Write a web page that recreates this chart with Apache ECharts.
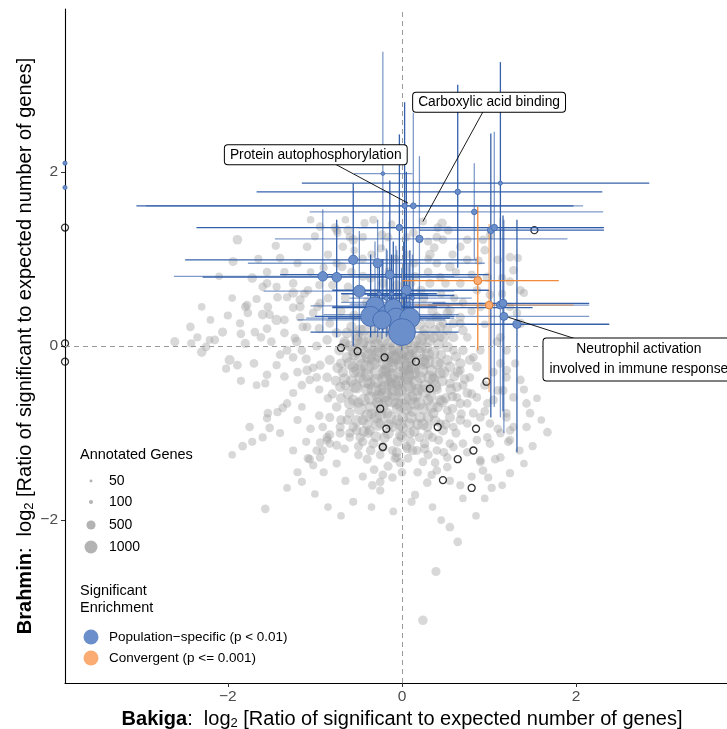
<!DOCTYPE html>
<html><head><meta charset="utf-8">
<script src="https://cdn.jsdelivr.net/npm/echarts@6/dist/echarts.min.js"></script>
<style>html,body{margin:0;padding:0;background:#fff}#chart{width:727px;height:729px}</style>
</head><body><div id="chart"></div>
<script>
// ---------------- DATA ----------------
const xTicks = [-2, 0, 2];
const yTicks = [-2, 0, 2];
const legendGenes = [50, 100, 500, 1000];
const legendGeneLabels = ['50', '100', '500', '1000'];

// background GO terms: [x, y, annotated genes]
const bgLeft = [
[-2.61,0.05,500],[-2.43,0.22,450],[-2.42,0.03,400],[-2.21,0.07,350],[-2.30,-0.07,550],[-2.25,-0.01,450],[-2.15,0.07,450],[-2.06,0.16,500],[-1.98,-0.16,600],[-1.89,-0.22,450],[-2.02,-0.26,400],[-1.85,0.14,450],[-1.80,0.03,500],[-1.69,0.16,450],[-1.78,0.47,450],[-1.67,0.54,400],[-1.60,0.36,550],[-1.54,0.45,450],[-1.43,0.56,450],[-1.32,0.56,400],[-1.44,0.30,650],[-1.35,0.30,450],[-1.25,0.44,450],[-1.21,0.05,550],[-1.32,-0.05,450],[-1.44,-0.22,400],[-1.55,-0.33,450],[-1.57,-0.43,400],[-1.67,-0.45,350],[-1.25,-0.13,450],[-1.15,-0.05,450],[-1.09,-0.28,550],[-1.02,-0.25,450],[-0.94,-0.22,500],[-0.98,-0.36,450],[-1.06,-0.39,450],[-1.15,-0.45,450],[-1.25,-0.54,400],[-1.32,-0.66,450],[-1.37,-0.71,450],[-1.43,-0.76,400],[-1.54,-0.77,450],[-1.55,-0.83,400],[-1.52,-0.94,450],[-1.75,-0.93,450],[-1.83,-1.15,450],[-1.72,-1.10,400],[-1.32,-1.63,350],[-1.15,-1.56,400],[-1.06,-1.30,450],[-1.02,-1.37,400],[-0.94,-1.28,450],[-0.91,-1.20,450],[-0.83,-1.12,450],[-0.86,-1.05,500],[-1.57,-1.87,450]
];
const bgUpperLeft = [
[-1.77,0.38,450],[-1.86,0.26,400],[-1.55,0.72,450],[-1.44,0.68,400],[-1.25,0.72,450],[-1.17,0.53,500],[-1.08,0.64,450],[-1.02,0.38,450],[-0.94,0.49,500],[-0.83,0.26,450],[-0.86,0.07,550],[-1.09,0.22,450],[-1.17,0.33,450],[-1.89,1.22,550],[-1.94,0.97,500],[-1.55,0.85,450],[-1.72,0.78,550],[-1.60,0.68,450],[-1.40,1.01,450],[-1.09,1.14,450],[-1.00,1.26,400],[-0.75,1.33,450],[-0.43,1.41,400],[-0.68,1.14,450],[-0.60,1.25,400],[-0.69,0.91,500],[-1.25,0.61,550],[-1.17,0.45,500],[-1.80,0.45,450],[-1.52,0.36,450],[-1.23,0.09,450],[-1.14,0.22,450],[-0.97,0.45,450]
];
const bgTop = [
[0.24,1.43,400],[0.46,1.41,550],[0.41,1.36,450],[0.53,1.33,450],[-0.94,1.37,450],[-0.77,1.36,450],[-0.62,1.33,500],[-0.33,1.45,400],[-0.23,1.28,450],[-0.74,1.30,400],[-0.56,1.22,550],[-0.16,1.25,450],[0.13,1.30,450],[0.47,1.22,450],[0.67,1.14,450],[0.93,1.22,450],[1.01,1.27,400]
];
const bgRight = [
[0.40,1.25,450],[0.37,1.13,450],[0.32,1.05,550],[0.75,1.22,450],[0.95,1.10,450],[1.24,1.02,450],[1.33,1.01,400],[1.28,0.87,450],[1.10,0.99,450],[0.98,0.79,550],[0.75,0.99,450],[0.55,0.91,550],[0.44,0.79,450],[0.32,0.72,500],[0.67,0.72,450],[0.86,0.64,450],[1.01,0.59,450],[1.24,0.74,450],[1.36,0.64,450],[1.40,0.61,400],[1.24,0.45,450],[1.32,0.38,450],[1.36,0.26,550],[1.13,0.10,450],[1.20,-0.05,450],[1.09,0.05,450],[0.90,-0.05,450],[0.75,0.10,450],[0.67,0.26,450],[0.55,0.41,550],[0.47,0.26,450],[0.44,0.10,450],[0.59,-0.05,450],[0.82,-0.13,450],[0.67,-0.28,450],[0.78,-0.36,450],[0.55,-0.43,550],[0.44,-0.20,450],[0.36,-0.36,450],[1.13,-0.20,450],[1.20,-0.36,450],[1.10,-0.51,450],[1.36,-0.39,450],[1.28,-0.59,450],[1.43,-0.66,450],[0.98,-0.66,450],[0.86,-0.59,450],[0.75,-0.66,450],[0.63,-0.59,450],[0.52,-0.74,450],[0.44,-0.89,450],[0.59,-0.93,450],[0.75,-0.89,450],[0.90,-0.82,450],[1.01,-0.89,450],[0.98,-1.05,450],[1.13,-1.00,450],[1.24,-0.97,450],[1.43,-0.93,450],[1.67,-0.99,450],[1.24,-1.08,450],[1.01,-1.12,450],[0.86,-1.08,450],[0.70,-1.12,450],[0.55,-1.12,450],[0.40,-1.20,450],[0.52,-1.28,450],[0.75,-1.22,450],[0.90,-1.31,450],[1.13,-1.28,450],[1.20,-0.82,450],[1.47,-0.77,450]
];
const bgCore = [
[-0.75,0.15,600],[-0.83,-0.16,600],[-0.86,-0.36,550],[-0.71,-0.47,600],[-0.75,-0.70,550],[-0.56,-0.62,700],[-0.60,-0.77,600],[-0.45,-0.85,650],[-0.37,-0.97,600],[-0.17,-0.77,700],[-0.06,-0.66,800],[0.01,-0.82,700],[0.09,-0.89,650],[0.09,-1.00,600],[-0.02,-1.02,650],[0.21,-0.82,700],[0.29,-0.93,600],[0.36,-0.77,650],[0.47,-0.97,600],[0.55,-0.82,600],[0.44,-0.62,650],[0.67,-0.66,550],[0.63,-0.47,600],[0.75,-0.54,550],[0.86,-0.24,550],[0.78,-0.16,600],[0.67,-0.20,650],[0.55,-0.24,700],[0.44,-0.31,750],[0.36,-0.39,800],[0.21,-0.36,900],[0.09,-0.47,900],[-0.02,-0.51,1000],[-0.14,-0.43,900],[-0.25,-0.51,900],[-0.37,-0.43,850],[-0.48,-0.36,800],[-0.56,-0.24,750],[-0.63,-0.13,700],[-0.48,-0.13,900],[-0.33,-0.20,1000],[-0.17,-0.28,1100],[-0.02,-0.31,1200],[0.13,-0.24,1100],[0.24,-0.16,1000],[0.36,-0.08,900],[0.52,-0.01,700],[0.59,0.10,600],[0.70,0.18,550],[0.52,0.18,600],[0.32,0.07,800],[0.21,-0.01,1000],[0.06,-0.08,1300],[-0.10,-0.13,1300],[-0.25,-0.05,1100],[-0.37,-0.01,1000],[-0.52,0.07,800],[-0.63,0.15,700],[-0.48,0.18,800],[0.36,0.10,700],[0.59,0.26,550],[0.67,0.33,500],[0.52,0.38,550],[0.40,0.33,600],[0.32,0.26,650],[1.20,-0.28,500],[1.16,-0.51,500],[1.05,-0.62,500],[1.20,-0.77,450],[1.28,-0.93,450],[0.67,-0.85,550],[0.82,-0.77,500],[-0.83,-0.82,500],[-0.91,-0.93,450],[-0.71,-1.00,500],[-0.56,-0.93,550],[-0.25,-0.89,600],[-0.10,-0.93,600]
];
const bgCoreHidden = [
[-0.45,0.05,900],[-0.30,0.10,1200],[-0.15,0.02,1000],[0.00,-0.05,1400],[0.15,0.05,900],[0.28,-0.02,800],[-0.55,-0.30,700],[-0.40,-0.50,900],[-0.28,-0.65,800],[-0.10,-0.40,1100],[0.05,-0.25,1300],[0.18,-0.50,900],[0.30,-0.62,700],[-0.05,-0.72,800],[0.12,-0.75,700],[-0.35,-0.78,700],[-0.20,-0.30,1000],[-0.65,-0.45,600],[-0.50,-0.65,650],[0.40,-0.50,600],[0.25,-0.20,900],[-0.33,-0.15,1000],[-0.10,-0.15,1500],[0.10,-0.12,1100],[-0.60,0.00,700],[0.45,-0.10,600],[-0.70,-0.20,600],[-0.15,-0.90,600],[0.20,-1.05,500],[-0.45,-1.10,500],[0.05,-1.15,500],[0.35,-1.05,500],[-0.25,-1.25,450],[-0.60,-1.05,450],[-0.40,0.30,700],[-0.20,0.25,900],[0.20,0.25,800],[0.35,0.40,600],[-0.55,0.35,600],[-0.65,0.55,500],[-0.30,0.60,600],[0.00,0.55,700],[0.25,0.55,500],[-0.45,0.80,500],[-0.15,0.85,500],[0.15,0.80,450],[-0.75,0.95,400],[0.45,0.60,400],[-0.35,1.05,400],[0.05,1.05,400],[-0.55,1.10,350],[0.30,1.00,350],[-0.85,0.55,450],[-0.95,0.70,400],[-1.05,0.85,350],[0.60,0.55,400],[0.80,0.40,400],[0.95,0.25,350],[0.70,-0.45,500],[-0.85,-0.60,450],[-0.95,-0.50,400],[-1.15,-0.70,350]
];
const bgDense = [
[-0.62,-0.55,700],[-0.52,-0.48,800],[-0.44,-0.62,900],[-0.36,-0.70,700],[-0.27,-0.58,1000],[-0.18,-0.64,900],[-0.09,-0.55,1100],[0.03,-0.60,1000],[0.14,-0.66,900],[0.24,-0.72,800],[0.33,-0.58,700],[0.41,-0.70,650],[0.50,-0.60,600],[0.58,-0.72,550],[-0.68,-0.30,650],[-0.58,-0.40,750],[-0.46,-0.22,950],[-0.40,-0.33,1000],[-0.29,-0.40,1200],[-0.20,-0.48,1100],[-0.12,-0.34,1300],[-0.04,-0.42,1200],[0.06,-0.36,1300],[0.16,-0.42,1100],[0.27,-0.46,950],[0.34,-0.28,850],[0.46,-0.40,700],[0.52,-0.16,650],[-0.72,-0.05,600],[-0.66,0.05,650],[-0.55,-0.10,800],[-0.41,-0.08,1000],[-0.29,0.00,1200],[-0.19,-0.18,1400],[-0.07,-0.02,1400],[0.03,0.05,1200],[0.12,-0.02,1100],[0.22,0.08,900],[0.30,-0.10,900],[0.42,0.02,700],[-0.58,0.22,650],[-0.44,0.18,750],[-0.32,0.22,800],[-0.12,0.15,900],[0.10,0.18,800],[0.26,0.18,700],[0.44,0.22,600],[-0.80,-0.55,500],[-0.70,-0.85,550],[-0.60,-1.00,500],[-0.48,-1.05,550],[-0.33,-1.12,600],[-0.20,-1.05,650],[-0.05,-1.10,600],[0.10,-1.10,550],[0.26,-1.12,550],[0.42,-1.08,500],[-0.40,-1.30,500],[-0.16,-1.38,500],[0.00,-1.45,450],[0.18,-1.45,450],[0.30,-1.25,500],[-0.32,-1.42,450],[-0.50,-1.25,450],[0.48,-1.22,450],[-0.66,-1.18,450],[-0.05,-0.85,800],[0.18,-0.90,750],[-0.25,-0.78,850],[0.30,-0.82,700],[0.05,-0.72,900],[-0.40,-0.90,650],[0.60,-0.35,600],[0.70,-0.05,550],[0.80,-0.55,500],[0.95,-0.45,500],[0.95,-0.75,450],[1.05,-0.30,450],[1.10,-0.95,450],[1.30,-0.20,400],[1.40,-0.50,400],[1.55,-0.60,350],[1.50,-1.15,400],[1.35,-1.20,400],[1.60,-0.85,350]
];
const bgDenseInner = [
[-0.55,-0.05,1000],[-0.47,0.02,1100],[-0.38,-0.12,1300],[-0.26,-0.10,1400],[-0.16,-0.06,1500],[-0.04,-0.12,1600],[0.07,-0.16,1500],[0.18,-0.08,1300],[0.29,-0.18,1100],[0.40,-0.20,900],[-0.60,-0.20,900],[-0.50,-0.28,1100],[-0.40,-0.24,1200],[-0.28,-0.30,1400],[-0.14,-0.22,1500],[0.00,-0.20,1600],[0.12,-0.30,1400],[0.22,-0.28,1200],[0.32,-0.36,1000],[0.48,-0.30,800],[-0.66,-0.38,800],[-0.54,-0.46,1000],[-0.42,-0.40,1200],[-0.32,-0.50,1300],[-0.20,-0.38,1400],[-0.08,-0.48,1500],[0.04,-0.44,1400],[0.15,-0.56,1200],[0.26,-0.52,1100],[0.38,-0.46,900],[0.56,-0.50,700],[-0.60,-0.66,800],[-0.48,-0.72,1000],[-0.36,-0.60,1100],[-0.24,-0.70,1200],[-0.12,-0.62,1300],[0.00,-0.68,1200],[0.10,-0.60,1100],[0.20,-0.66,1000],[0.34,-0.70,900],[0.46,-0.64,800],[-0.52,-0.86,800],[-0.40,-0.80,900],[-0.28,-0.90,1000],[-0.14,-0.82,1000],[-0.02,-0.90,900],[0.10,-0.82,900],[0.24,-0.90,800],[0.38,-0.86,700],[-0.44,-0.98,700],[-0.30,-1.04,700],[-0.16,-1.00,800],[0.00,-1.04,700],[0.14,-0.98,700],[0.30,-1.02,600],[-0.22,-1.16,600],[-0.06,-1.22,600],[0.12,-1.20,550],[0.26,-1.18,550],[-0.36,-1.20,550],[-0.50,-1.15,500],[-0.70,-0.60,600],[-0.76,-0.40,600],[-0.74,-0.25,650],[0.62,-0.12,600],[0.64,-0.30,600],[0.72,-0.38,550],[0.58,-0.58,550],[0.68,-0.78,500],[0.50,-0.90,550],[0.62,-1.00,500],[-0.66,0.02,700],[-0.52,0.12,800],[-0.36,0.10,1000],[-0.22,0.08,1200],[0.25,0.12,900],[0.38,0.18,700],[0.48,0.10,650],[-0.30,-0.82,900],[0.05,-0.32,1500],[-0.20,-0.56,1300]
];
const bgBehindBars = [
[-0.70,0.40,500],[-0.62,0.68,450],[-0.40,0.50,600],[-0.36,0.78,500],[-0.22,0.72,550],[-0.06,0.70,550],[0.10,0.72,500],[0.22,0.64,500],[0.30,0.85,450],[0.14,0.95,450],[-0.08,1.00,450],[-0.24,1.12,400],[-0.45,1.00,450],[-0.58,0.85,450],[-0.80,0.70,450],[-0.85,1.05,400],[-0.90,0.90,400],[0.40,0.95,450],[0.50,0.72,450],[0.62,0.85,400],[0.80,0.82,400],[0.88,0.98,400],[1.15,0.78,400],[1.15,0.60,400],[0.70,0.50,450],[0.90,0.45,450],[0.58,1.05,400],[-0.12,1.40,350],[0.05,1.25,400],[0.30,1.20,400],[-0.45,1.25,400]
];
const bgArms = [
[-0.95,-0.80,450],[-1.05,-0.95,450],[-1.20,-0.85,400],[-1.10,-1.10,400],[-1.25,-1.20,400],[-1.40,-1.00,400],[-1.60,-1.05,400],[-1.95,-1.25,350],[-1.20,-1.45,400],[-0.90,-1.45,400],[-0.75,-1.35,400],[-0.65,-1.55,400],[-0.45,-1.50,400],[-1.00,-1.70,350],[-0.85,-1.85,350],
[-2.00,0.35,400],[-2.20,0.30,350],[-2.35,0.10,400],[-1.95,0.55,350],[-1.62,0.10,450],[-1.50,0.05,450],[-1.40,-0.10,450],[-1.70,-0.20,450],[-1.85,-0.40,400],[-1.35,-0.35,450],[-1.20,-0.30,450],[-1.10,-0.15,500],[-0.98,0.00,500],[-0.95,0.20,500],[-1.35,0.15,450],[-1.55,0.20,450],[-1.12,0.60,450],[-1.35,0.85,400],[-1.20,0.95,400],[-1.65,1.00,400],[-1.45,1.15,400],[-2.10,0.80,350],[-2.30,0.45,350],[-0.65,1.45,350],[-1.05,1.45,350],
[0.55,-1.55,400],[0.80,-1.50,400],[0.70,-1.75,350],[0.95,-1.75,350],[1.15,-1.60,350],[1.40,-1.35,350],[0.35,-1.85,350],[-0.10,-1.90,350],[0.45,-2.00,350],[-0.35,-1.85,350],[-0.70,-1.95,350],[0.85,-1.95,350]
];
const bgLower = [
[-0.56,-1.79,400],[-0.34,-1.60,450],[-0.25,-1.56,450],[-0.25,-1.66,400],[-0.22,-1.48,450],[-0.11,-1.51,450],[-0.08,-1.29,500],[0.06,-1.18,500],[0.07,-1.29,450],[0.17,-1.20,500],[0.24,-1.33,450],[0.15,-1.71,400],[0.11,-1.79,400],[0.29,-1.57,450],[0.38,-1.34,450],[0.34,-1.48,400],[0.40,-1.43,450],[0.52,-1.39,450],[0.59,-1.16,450],[0.67,-1.60,400],[0.93,-1.43,450],[0.99,-1.51,400],[1.03,-1.63,400],[1.07,-1.30,450],[0.90,-1.33,450],[1.24,-1.46,400],[1.22,-1.10,450],[0.55,-2.08,450],[0.64,-2.25,450],[0.39,-2.59,500],[0.24,-3.15,550],[-0.83,-1.02,500],[-0.98,-1.20,450],[-1.08,-1.29,450],[-0.94,-1.11,450],[-0.86,-1.08,450],[-0.75,-1.14,500],[-0.71,-0.93,500],[-0.63,-0.85,550],[-0.52,-0.97,550],[-0.39,-1.00,550],[0.01,-0.94,600],[-0.02,-1.34,500],[-0.06,-1.28,500],[-0.11,-1.20,500]
];

// significant in one population only (black outline): [x, y]
const hollowPts = [
[-0.70,-0.02],[-0.51,-0.06],[-0.20,-0.13],[0.16,-0.18],[0.32,-0.49],[0.97,-0.41],[-0.25,-0.72],[-0.18,-0.95],[-0.22,-1.16],[0.41,-0.93],[0.85,-0.95],[0.82,-1.20],[0.64,-1.30],[0.47,-1.54],[0.80,-1.63],[1.52,1.33],[-3.87,1.36],[-3.87,0.03],[-3.87,-0.18]
];

// population-specific: [x, y, genes, xLow, xHigh, yLow, yHigh]
const popSpecific = [
[1.13,1.87,100,-1.15,2.84,0.53,3.26],
[-0.22,1.98,80,-0.55,0.12,1.10,3.38],
[0.03,1.61,170,-3.05,1.97,0.30,2.80],
[0.13,1.61,200,-2.94,2.08,0.20,2.68],
[0.64,1.77,180,-1.67,2.30,0.90,3.00],
[0.83,1.54,180,-1.06,2.31,1.00,2.10],
[-0.03,1.36,250,-2.36,2.32,0.40,2.43],
[0.20,1.23,320,-1.46,1.90,0.30,2.18],
[1.02,1.33,280,0.20,2.32,-0.82,2.44],
[1.06,1.36,250,-0.50,2.30,-0.70,2.46],
[-0.56,0.99,520,-2.49,0.86,0.00,1.87],
[-0.28,0.95,500,-1.77,0.95,0.10,1.45],
[-0.14,0.82,450,-1.40,1.00,0.15,1.90],
[-0.91,0.80,550,-2.62,0.60,0.16,1.57],
[-0.75,0.79,550,-2.29,0.90,0.10,1.45],
[-0.49,0.63,850,-1.59,0.60,0.10,1.32],
[0.05,0.64,600,-0.80,1.00,0.15,2.00],
[-0.18,0.55,120,-0.60,0.30,0.10,1.12],
[-0.12,0.60,100,-0.50,0.40,0.15,1.05],
[-0.06,0.50,110,-0.70,0.50,0.12,1.10],
[0.02,0.58,100,-0.40,0.60,0.18,1.20],
[0.07,0.48,120,-0.60,0.70,0.10,0.95],
[-0.22,0.45,130,-0.80,0.40,0.15,1.00],
[0.12,0.55,100,-0.30,0.80,0.20,1.05],
[-0.26,0.60,100,-0.70,0.30,0.18,0.98],
[-0.31,0.46,2000,-1.05,0.55,0.15,1.20],
[-0.36,0.34,2400,-1.00,0.60,0.10,1.05],
[-0.17,0.36,2000,-0.90,0.65,0.12,1.10],
[-0.10,0.44,1800,-0.80,1.50,0.20,1.20],
[-0.07,0.32,2400,-1.10,0.60,0.10,1.15],
[0.09,0.32,2400,-0.85,0.55,0.12,1.10],
[-0.23,0.30,2000,-1.20,0.50,0.08,1.00],
[0.00,0.16,4300,-1.05,0.65,-0.05,0.90],
[1.13,0.47,380,0.30,2.15,-0.82,1.47],
[1.16,0.49,380,0.35,2.15,-0.75,1.50],
[1.17,0.34,380,0.00,2.15,-1.00,1.45],
[1.32,0.25,400,0.50,2.38,-1.22,1.45],
[-3.87,2.10,100,-3.87,-3.87,2.10,2.10],
[-3.87,1.82,100,-3.87,-3.87,1.82,1.82]
];
// convergent: [x, y, genes, xLow, xHigh, yLow, yHigh]
const convergent = [
[0.87,0.75,380,0.00,1.80,-0.05,1.60],
[1.00,0.47,350,0.15,1.97,-0.53,1.40]
];

// annotations
const annoText = ['Protein autophosphorylation', 'Carboxylic acid binding', 'Neutrophil activation\ninvolved in immune response'];
const annoBox  = [[-0.99, 2.195], [1.00, 2.80], [2.72, -0.155]];
const annoFrom = [[-0.77, 2.09], [0.93, 2.69], [2.00, 0.08]];
const annoTo   = [[0.07, 1.64], [0.24, 1.43], [1.22, 0.33]];

// ---------------- CHART ----------------
const FONT = '"Liberation Sans", Arial, Helvetica, sans-serif';
const sz = g => Math.sqrt(g) * 0.41;
const fmt = v => (v < 0 ? '\u2212' + Math.abs(v) : String(v));
const background = [].concat(bgLeft, bgUpperLeft, bgTop, bgRight, bgCore, bgCoreHidden, bgDense, bgDenseInner, bgBehindBars, bgArms, bgLower);
const BLUE_FILL = '#6b8fcb', BLUE_EDGE = '#3d66ad', BLUE_LINE = '#2a58a6';
const ORG_FILL = '#fbac72', ORG_EDGE = '#e07b2c', ORG_LINE = '#f0842f';

function errRender(color) {
  return function (params, api) {
    const x = api.value(0), y = api.value(1);
    const a = api.coord([api.value(3), y]), b = api.coord([api.value(4), y]);
    const c = api.coord([x, api.value(5)]), d = api.coord([x, api.value(6)]);
    const op = params.dataIndex % 2 ? 0.6 : 0.95;
    return { type: 'group', children: [
      { type: 'line', shape: { x1: a[0], y1: a[1], x2: b[0], y2: b[1] }, style: { stroke: color, lineWidth: 1.3, opacity: op } },
      { type: 'line', shape: { x1: c[0], y1: c[1], x2: d[0], y2: d[1] }, style: { stroke: color, lineWidth: 1.3, opacity: op } }
    ] };
  };
}

const annoData = annoBox.map((b, i) => [b[0], b[1], annoFrom[i][0], annoFrom[i][1], annoTo[i][0], annoTo[i][1]]);

const nameRich = {
  b: { fontFamily: FONT, fontSize: 20, fontWeight: 'bold', color: '#000' },
  n: { fontFamily: FONT, fontSize: 20, color: '#000' },
  s: { fontFamily: FONT, fontSize: 13, color: '#000', padding: [9, 0, 0, 0] }
};

const graphics = [];
graphics.push({ type: 'text', x: 80, y: 455, style: { text: 'Annotated Genes', font: '14.5px ' + FONT, fill: '#000', verticalAlign: 'middle' } });
const legY = [481, 502, 525, 547];
legendGenes.forEach((g, i) => {
  graphics.push({ type: 'circle', shape: { cx: 91, cy: legY[i], r: sz(g) / 2 }, style: { fill: '#b3b3b3' } });
  graphics.push({ type: 'text', x: 109, y: legY[i], style: { text: legendGeneLabels[i], font: '14px ' + FONT, fill: '#000', verticalAlign: 'middle' } });
});
graphics.push({ type: 'text', x: 80, y: 591, style: { text: 'Significant', font: '14.5px ' + FONT, fill: '#000', verticalAlign: 'middle' } });
graphics.push({ type: 'text', x: 80, y: 608, style: { text: 'Enrichment', font: '14.5px ' + FONT, fill: '#000', verticalAlign: 'middle' } });
graphics.push({ type: 'circle', shape: { cx: 91, cy: 637, r: 7.5 }, style: { fill: BLUE_FILL } });
graphics.push({ type: 'text', x: 109, y: 637, style: { text: 'Population\u2212specific (p < 0.01)', font: '13.5px ' + FONT, fill: '#000', verticalAlign: 'middle' } });
graphics.push({ type: 'circle', shape: { cx: 91, cy: 658, r: 7.5 }, style: { fill: ORG_FILL } });
graphics.push({ type: 'text', x: 109, y: 658, style: { text: 'Convergent (p <= 0.001)', font: '13.5px ' + FONT, fill: '#000', verticalAlign: 'middle' } });

const chart = echarts.init(document.getElementById('chart'));
chart.setOption({
  animation: false,
  backgroundColor: '#fff',
  grid: { left: 65, right: -12, top: 9, bottom: 46, containLabel: false, outerBoundsMode: 'none' },
  xAxis: {
    type: 'value', min: -3.87, max: 3.87,
    axisLine: { show: true, onZero: false, lineStyle: { color: '#000', width: 1.1 } },
    axisTick: { show: true, length: 4, customValues: xTicks, lineStyle: { color: '#333' } },
    axisLabel: { customValues: xTicks, formatter: fmt, color: '#4d4d4d', fontSize: 15.5, fontFamily: FONT, margin: 6 },
    splitLine: { show: false },
    name: '{b|Bakiga}{n|:  log}{s|2}{n| [Ratio of significant to expected number of genes]}',
    nameLocation: 'middle', nameGap: 25, nameMoveOverlap: false, nameTextStyle: { rich: nameRich }
  },
  yAxis: {
    type: 'value', min: -3.87, max: 3.87,
    axisLine: { show: true, onZero: false, lineStyle: { color: '#000', width: 1.1 } },
    axisTick: { show: true, length: 4, customValues: yTicks, lineStyle: { color: '#333' } },
    axisLabel: { customValues: yTicks, formatter: fmt, color: '#4d4d4d', fontSize: 15.5, fontFamily: FONT, margin: 7 },
    splitLine: { show: false },
    name: '{b|Brahmin}{n|:  log}{s|2}{n| [Ratio of significant to expected number of genes]}',
    nameLocation: 'middle', nameGap: 29, nameRotate: 90, nameMoveOverlap: false, nameTextStyle: { rich: nameRich }
  },
  graphic: graphics,
  series: [
    {
      type: 'scatter', name: 'background', data: background, z: 1,
      symbolSize: d => sz(d[2]),
      itemStyle: { color: '#a3a3a3', opacity: 0.42 },
      silent: true,
      markLine: {
        silent: true, symbol: 'none', label: { show: false },
        lineStyle: { color: '#9a9a9a', type: [5, 4], width: 1 },
        data: [{ xAxis: 0 }, { yAxis: 0 }]
      }
    },
    {
      type: 'scatter', name: 'hollow', data: hollowPts, z: 3, symbolSize: 7,
      itemStyle: { color: 'rgba(0,0,0,0)', borderColor: '#000', borderWidth: 1.3 }
    },
    {
      type: 'custom', name: 'popErr', data: popSpecific, z: 4,
      encode: { x: 0, y: 1 }, renderItem: errRender(BLUE_LINE), silent: true
    },
    {
      type: 'custom', name: 'convErr', data: convergent, z: 4,
      encode: { x: 0, y: 1 }, renderItem: errRender(ORG_LINE), silent: true
    },
    {
      type: 'scatter', name: 'Population-specific', data: popSpecific, z: 5,
      encode: { x: 0, y: 1 },
      symbolSize: d => sz(d[2]),
      itemStyle: { color: BLUE_FILL, borderColor: BLUE_EDGE, borderWidth: 0.8, opacity: 1 }
    },
    {
      type: 'scatter', name: 'Convergent', data: convergent, z: 5,
      encode: { x: 0, y: 1 },
      symbolSize: d => sz(d[2]),
      itemStyle: { color: ORG_FILL, borderColor: ORG_EDGE, borderWidth: 0.9, opacity: 1 }
    },
    {
      type: 'custom', name: 'annotations', data: annoData, z: 10, clip: false, silent: true,
      encode: { x: 0, y: 1 },
      renderItem: function (params, api) {
        const i = params.dataIndex;
        const c = api.coord([api.value(0), api.value(1)]);
        const a = api.coord([api.value(2), api.value(3)]);
        const e = api.coord([api.value(4), api.value(5)]);
        const two = annoText[i].indexOf('\n') >= 0;
        return { type: 'group', children: [
          { type: 'line', shape: { x1: a[0], y1: a[1], x2: e[0], y2: e[1] }, style: { stroke: '#000', lineWidth: 0.9 } },
          { type: 'text', x: c[0], y: c[1], style: {
            text: annoText[i], align: 'center', verticalAlign: 'middle',
            font: '13.8px ' + FONT, fill: '#000', lineHeight: two ? 20 : 15,
            backgroundColor: '#fff', borderColor: '#000', borderWidth: 1, borderRadius: 3,
            padding: two ? [1, 6] : [2, 5]
          } }
        ] };
      }
    }
  ]
});
</script>
</body></html>
